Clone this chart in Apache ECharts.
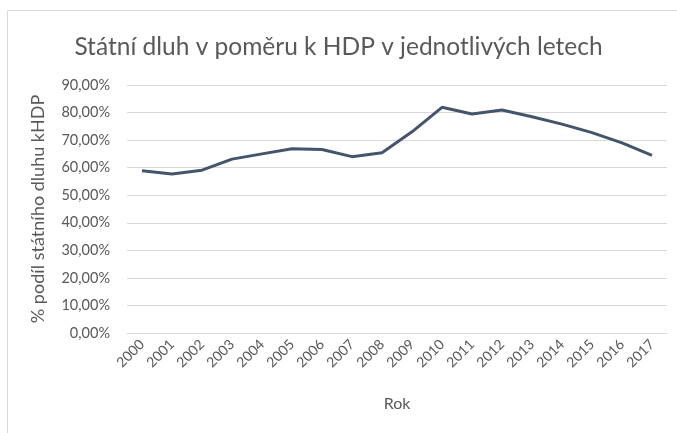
<!DOCTYPE html>
<html>
<head>
<meta charset="utf-8">
<script src="https://cdn.jsdelivr.net/npm/echarts@6/dist/echarts.min.js"></script>
<style>
  html, body { margin: 0; padding: 0; background: #fff; }
  #chart { width: 677px; height: 433px; }
</style>
</head>
<body>
<div id="chart"></div>
<script>
const years = ['2000', '2001', '2002', '2003', '2004', '2005', '2006', '2007', '2008',
  '2009', '2010', '2011', '2012', '2013', '2014', '2015', '2016', '2017'];
// % share of state debt to GDP
const debtShare = [58.9, 57.7, 59.1, 63.1, 65.0, 66.9, 66.6, 64.0, 65.4,
  73.0, 81.9, 79.5, 80.9, 78.5, 75.8, 72.7, 69.0, 64.5];

const font = 'Lato, "Open Sans", sans-serif';
const chart = echarts.init(document.getElementById('chart'));

chart.setOption({
  animation: false,
  backgroundColor: '#fff',
  textStyle: { fontFamily: font },
  title: {
    text: 'Státní dluh v poměru k HDP v jednotlivých letech',
    left: 'center',
    top: 30,
    textStyle: { fontFamily: font, fontSize: 24.5, fontWeight: 'normal', color: '#595959' }
  },
  graphic: [{
    type: 'rect',
    shape: { x: 7.5, y: 10.5, width: 700, height: 440 },
    style: { fill: 'none', stroke: '#d9d9d9', lineWidth: 1 },
    silent: true
  }],
  grid: { left: 127, right: 10, top: 85, bottom: 100 },
  xAxis: {
    type: 'category',
    data: years,
    name: 'Rok',
    nameLocation: 'middle',
    nameGap: 63,
    nameTextStyle: { fontFamily: font, fontSize: 16, color: '#595959' },
    axisLine: { lineStyle: { color: '#d9d9d9' } },
    axisTick: { show: false },
    axisLabel: { rotate: 45, fontSize: 14, color: '#595959', margin: 9, interval: 0 }
  },
  yAxis: {
    type: 'value',
    min: 0,
    max: 90,
    interval: 10,
    name: '% podíl státního dluhu kHDP',
    nameLocation: 'middle',
    nameGap: 80,
    nameTextStyle: { fontFamily: font, fontSize: 18, color: '#595959' },
    axisLine: { show: false },
    axisTick: { show: false },
    splitLine: { lineStyle: { color: '#d9d9d9' } },
    axisLabel: {
      fontSize: 14.5, color: '#595959', margin: 17,
      formatter: v => v.toFixed(2).replace('.', ',') + '%'
    }
  },
  series: [{
    type: 'line',
    data: debtShare,
    symbol: 'none',
    lineStyle: { color: '#44546a', width: 3 },
    itemStyle: { color: '#44546a' }
  }]
});
</script>
</body>
</html>
